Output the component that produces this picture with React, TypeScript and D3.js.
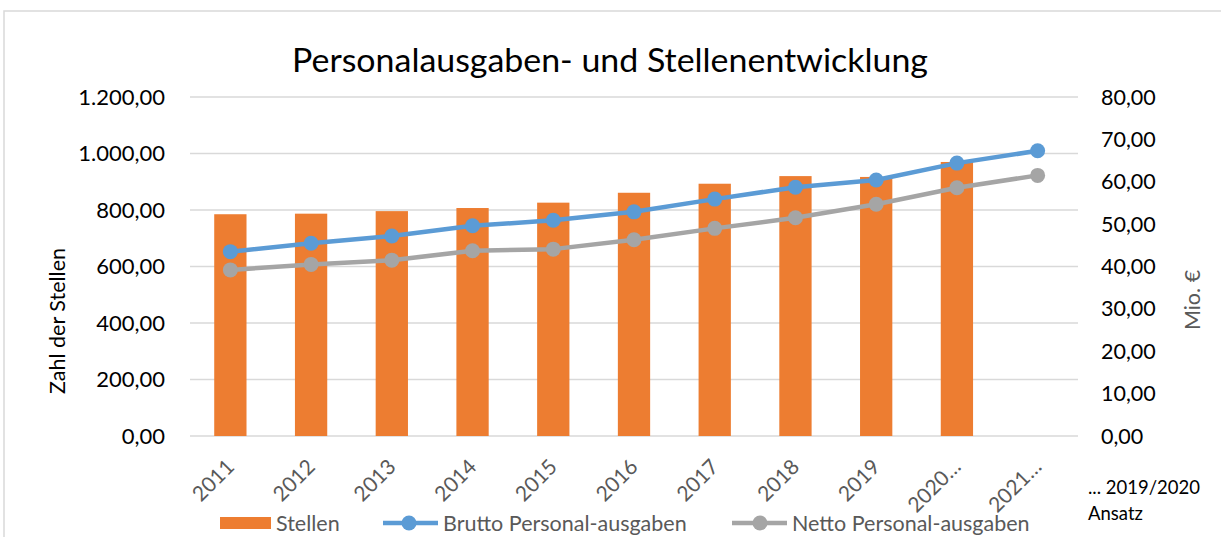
import React from "react";
import * as d3 from "d3";

const categories = ["2011", "2012", "2013", "2014", "2015", "2016", "2017", "2018", "2019", "2020…", "2021…"];
const stellen: (number | null)[] = [785, 787, 796, 807, 826, 861, 893, 920, 917, 970, null];
const brutto = [43.5, 45.5, 47.2, 49.6, 50.9, 52.9, 55.9, 58.7, 60.4, 64.4, 67.3];
const netto = [39.2, 40.5, 41.5, 43.7, 44.1, 46.3, 49.0, 51.5, 54.7, 58.6, 61.5];
const leftTicks = [0, 200, 400, 600, 800, 1000, 1200];
const rightTicks = [0, 10, 20, 30, 40, 50, 60, 70, 80];

const title = "Personalausgaben- und Stellenentwicklung";
const leftTitle = "Zahl der Stellen";
const rightTitle = "Mio. €";
const legendLabels = ["Stellen", "Brutto Personal-ausgaben", "Netto Personal-ausgaben"];
const noteLines = ["... 2019/2020", "Ansatz"];

const W = 1221;
const H = 537;
const FONT = "Lato, 'Noto Sans', sans-serif";
const ORANGE = "#ED7D31";
const BLUE = "#5B9BD5";
const GRAY = "#A5A5A5";

const fmt = (v: number) => {
  const s = v.toFixed(2).replace(".", ",");
  const [i, d] = s.split(",");
  return i.replace(/\B(?=(\d{3})+(?!\d))/g, ".") + "," + d;
};

export default function App() {
  const left = 190, right = 1078, top = 97, bottom = 436;
  const x = d3.scaleBand<string>().domain(categories).range([left, right]).paddingInner(0.6).paddingOuter(0.3);
  const yL = d3.scaleLinear().domain([0, 1200]).range([bottom, top]);
  const yR = d3.scaleLinear().domain([0, 80]).range([bottom, top]);
  const cx = (c: string) => (x(c) as number) + x.bandwidth() / 2;

  const line = d3
    .line<number>()
    .x((_, i) => cx(categories[i]))
    .y((d) => yR(d));

  return (
    <svg width={W} height={H} style={{ position: "absolute", left: 0, top: 0, background: "#fff" }} fontFamily={FONT}>
      <rect x={0} y={0} width={W} height={H} fill="#fff" />
      <rect x={4} y={11} width={1300} height={700} fill="none" stroke="#d9d9d9" strokeWidth={1.5} />
      <text x={610} y={72} textAnchor="middle" fontSize={32} fill="#000" textLength={636} lengthAdjust="spacingAndGlyphs">
        {title}
      </text>

      {leftTicks.map((t) => (
        <g key={"g" + t}>
          <line x1={left} x2={right} y1={yL(t)} y2={yL(t)} stroke="#d9d9d9" strokeWidth={1.4} />
          <text x={165} y={yL(t)} dy="0.35em" textAnchor="end" fontSize={22} fill="#000">
            {fmt(t)}
          </text>
        </g>
      ))}
      {rightTicks.map((t) => (
        <text key={"r" + t} x={1101} y={yR(t)} dy="0.35em" textAnchor="start" fontSize={21.5} fill="#000">
          {fmt(t)}
        </text>
      ))}

      <text transform={`translate(65,321) rotate(-90)`} textAnchor="middle" fontSize={21.5} fill="#000">
        {leftTitle}
      </text>
      <text transform={`translate(1200,300) rotate(-90)`} textAnchor="middle" fontSize={21.5} fill="#595959">
        {rightTitle}
      </text>

      {stellen.map((v, i) =>
        v == null ? null : (
          <rect key={"b" + i} x={x(categories[i])} y={yL(v)} width={x.bandwidth()} height={bottom - yL(v)} fill={ORANGE} />
        )
      )}

      <path d={line(netto) || ""} fill="none" stroke={GRAY} strokeWidth={4.5} strokeLinejoin="round" />
      {netto.map((v, i) => (
        <circle key={"n" + i} cx={cx(categories[i])} cy={yR(v)} r={7.5} fill={GRAY} />
      ))}
      <path d={line(brutto) || ""} fill="none" stroke={BLUE} strokeWidth={4.5} strokeLinejoin="round" />
      {brutto.map((v, i) => (
        <circle key={"bb" + i} cx={cx(categories[i])} cy={yR(v)} r={7.5} fill={BLUE} />
      ))}

      {categories.map((c) => (
        <text
          key={"x" + c}
          transform={`translate(${cx(c)},463) rotate(-45)`}
          textAnchor="end"
          dy="0.35em"
          fontSize={21}
          fill="#595959"
        >
          {c}
        </text>
      ))}

      <g>
        <rect x={220} y={517} width={51} height={12} fill={ORANGE} />
        <text x={276} y={531} fontSize={21.5} fill="#595959">{legendLabels[0]}</text>
        <line x1={383} x2={438} y1={523} y2={523} stroke={BLUE} strokeWidth={4.5} />
        <circle cx={409} cy={523} r={7.5} fill={BLUE} />
        <text x={443} y={531} fontSize={21.5} fill="#595959">{legendLabels[1]}</text>
        <line x1={732} x2={787} y1={523} y2={523} stroke={GRAY} strokeWidth={4.5} />
        <circle cx={760} cy={523} r={7.5} fill={GRAY} />
        <text x={792} y={531} fontSize={21.5} fill="#595959">{legendLabels[2]}</text>
      </g>

      <text x={1088} y={494} fontSize={18.5} fill="#000">{noteLines[0]}</text>
      <text x={1088} y={520} fontSize={18.5} fill="#000">{noteLines[1]}</text>
    </svg>
  );
}
